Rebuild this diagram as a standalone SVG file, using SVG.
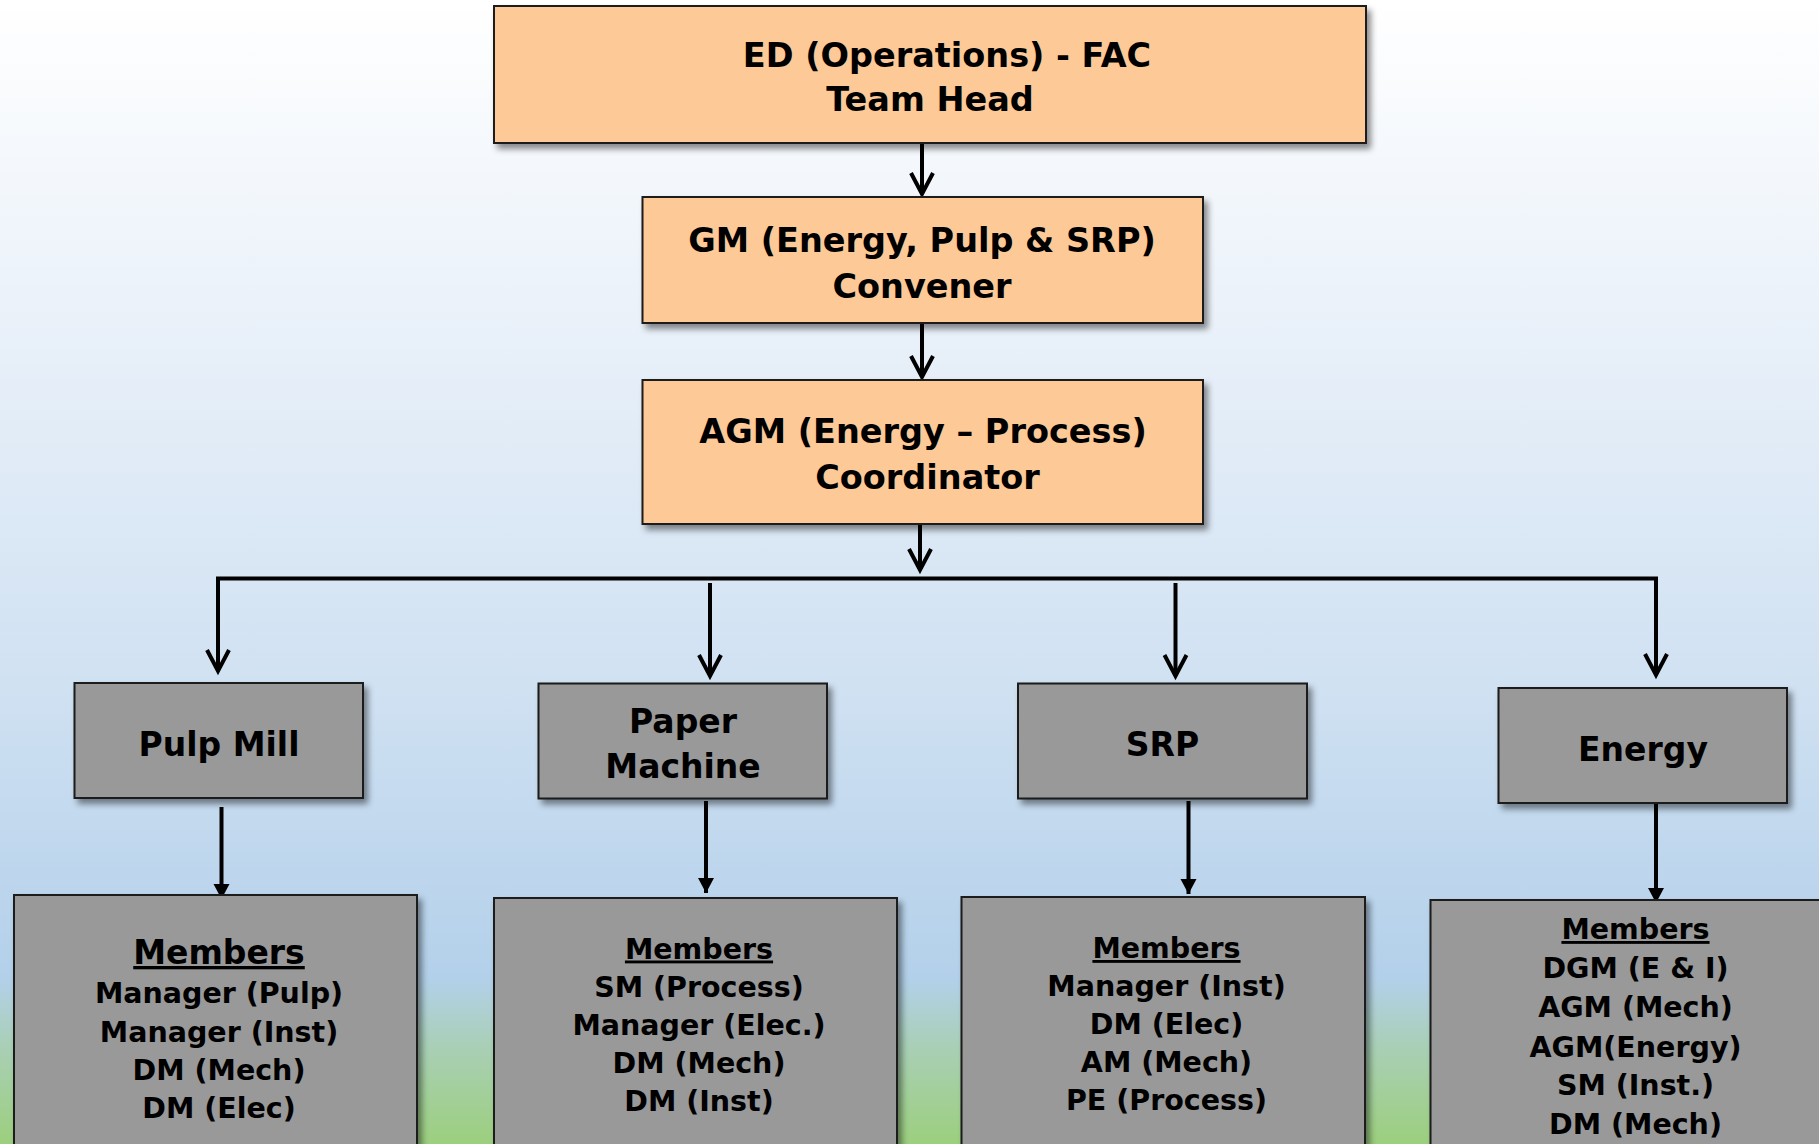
<svg xmlns="http://www.w3.org/2000/svg" width="1819" height="1144" viewBox="0 0 1819 1144">
<defs>
<linearGradient id="bg" x1="0" y1="0" x2="0" y2="1">
<stop offset="0" stop-color="#ffffff"/>
<stop offset="0.3" stop-color="#e8f0f9"/>
<stop offset="0.6" stop-color="#d0e1f2"/>
<stop offset="0.855" stop-color="#b3d0ea"/>
<stop offset="0.92" stop-color="#a8cfb2"/>
<stop offset="1" stop-color="#9ccf7e"/>
</linearGradient>
<filter id="sh" x="-10%" y="-10%" width="120%" height="130%">
<feDropShadow dx="4" dy="5" stdDeviation="3" flood-color="#000" flood-opacity="0.45"/>
</filter>
<marker id="vee" markerUnits="userSpaceOnUse" viewBox="-26 -14 30 28" markerWidth="30" markerHeight="28" refX="0" refY="0" orient="auto" overflow="visible">
<path d="M-21,-11 L0,0 L-21,11" fill="none" stroke="#000" stroke-width="4" stroke-linejoin="miter"/>
</marker>
<marker id="tri" markerUnits="userSpaceOnUse" viewBox="-16 -9 18 18" markerWidth="18" markerHeight="18" refX="0" refY="0" orient="auto" overflow="visible">
<path d="M-15,-8 L0,0 L-15,8 Z" fill="#000"/>
</marker>
<style>
.orange{fill:#fdc997;stroke:#1a1a1a;stroke-width:2;filter:url(#sh)}
.gray{fill:#999999;stroke:#1a1a1a;stroke-width:2;filter:url(#sh)}
text{font-family:"DejaVu Sans","Verdana",sans-serif;font-weight:bold;fill:#000;text-anchor:middle}
.t1{font-size:33.5px}
.t2{font-size:33px}
.it{font-size:28.5px}
.mh{font-size:28.5px;text-decoration:underline}
.mhb{font-size:33px;text-decoration:underline}
.ln{stroke:#000;stroke-width:4;fill:none}
.va{marker-end:url(#vee)}
.ta{marker-end:url(#tri)}
</style>
</defs>
<rect x="0" y="0" width="1819" height="1144" fill="url(#bg)"/>

<g id="connectors">
<path class="ln va" d="M922,143 L922,194"/>
<path class="ln va" d="M922,323 L922,377"/>
<path class="ln va" d="M920,524 L920,570"/>
<path class="ln" d="M216,578.5 L1658,578.5"/>
<path class="ln va" d="M218,578 L218,671"/>
<path class="ln va" d="M710,583 L710,676"/>
<path class="ln va" d="M1175.5,583 L1175.5,676"/>
<path class="ln va" d="M1656,580 L1656,675"/>
<path class="ln ta" d="M221.5,807 L221.5,899"/>
<path class="ln ta" d="M706,801 L706,893"/>
<path class="ln ta" d="M1188.5,801 L1188.5,894"/>
<path class="ln ta" d="M1656,797 L1656,903"/>
</g>

<g id="ed">
<rect class="orange" x="494" y="6" width="872" height="137"/>
<text class="t1" x="947" y="67">ED (Operations) - FAC</text>
<text class="t1" x="930" y="111">Team Head</text>
</g>
<g id="gm">
<rect class="orange" x="642.5" y="197" width="560.5" height="126"/>
<text class="t1" x="922" y="252">GM (Energy, Pulp &amp; SRP)</text>
<text class="t1" x="922" y="297.5">Convener</text>
</g>
<g id="agm">
<rect class="orange" x="642.5" y="380" width="560.5" height="144"/>
<text class="t1" x="923" y="443">AGM (Energy – Process)</text>
<text class="t1" x="927.5" y="488.5">Coordinator</text>
</g>

<g id="pulp">
<rect class="gray" x="74.5" y="683" width="288.5" height="115"/>
<text class="t2" x="219" y="755.5">Pulp Mill</text>
</g>
<g id="paper">
<rect class="gray" x="538.5" y="683.5" width="288.5" height="115"/>
<text class="t2" x="683" y="733">Paper</text>
<text class="t2" x="683" y="778">Machine</text>
</g>
<g id="srp">
<rect class="gray" x="1018" y="683.5" width="289" height="115"/>
<text class="t2" x="1162.5" y="755.5">SRP</text>
</g>
<g id="energy">
<rect class="gray" x="1498.5" y="688" width="288.5" height="115"/>
<text class="t2" x="1643" y="761">Energy</text>
</g>

<g id="pulp-members">
<rect class="gray" x="14" y="895" width="403" height="270"/>
<text class="mhb" x="219" y="964">Members</text>
<text class="it" x="219" y="1003">Manager (Pulp)</text>
<text class="it" x="219" y="1041.5">Manager (Inst)</text>
<text class="it" x="219" y="1079.5">DM (Mech)</text>
<text class="it" x="219" y="1117.5">DM (Elec)</text>
</g>
<g id="paper-members">
<rect class="gray" x="494" y="898" width="403" height="270"/>
<text class="mh" x="699" y="958.5">Members</text>
<text class="it" x="699" y="996.5">SM (Process)</text>
<text class="it" x="699" y="1035">Manager (Elec.)</text>
<text class="it" x="699" y="1073">DM (Mech)</text>
<text class="it" x="699" y="1110.5">DM (Inst)</text>
</g>
<g id="srp-members">
<rect class="gray" x="961.5" y="897" width="403.5" height="270"/>
<text class="mh" x="1166.5" y="958">Members</text>
<text class="it" x="1166.5" y="996">Manager (Inst)</text>
<text class="it" x="1166.5" y="1034">DM (Elec)</text>
<text class="it" x="1166.5" y="1071.5">AM (Mech)</text>
<text class="it" x="1166.5" y="1110">PE (Process)</text>
</g>
<g id="energy-members">
<rect class="gray" x="1430.5" y="900" width="420" height="270"/>
<text class="mh" x="1635.5" y="939">Members</text>
<text class="it" x="1635.5" y="978">DGM (E &amp; I)</text>
<text class="it" x="1635.5" y="1017">AGM (Mech)</text>
<text class="it" x="1635.5" y="1056.5">AGM(Energy)</text>
<text class="it" x="1635.5" y="1095">SM (Inst.)</text>
<text class="it" x="1635.5" y="1133.5">DM (Mech)</text>
</g>
</svg>
